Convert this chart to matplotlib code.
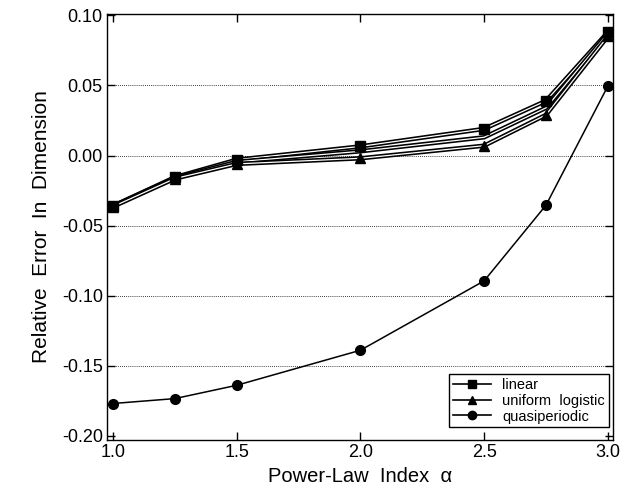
import matplotlib
matplotlib.use('Agg')
from matplotlib import pyplot as plt
import matplotlib.patheffects as pe
from matplotlib.lines import Line2D

alpha = [1.0, 1.25, 1.5, 2.0, 2.5, 2.75, 3.0]
linear = [-0.036, -0.0155, -0.003, 0.0065, 0.019, 0.039, 0.088]
uniform = [-0.036, -0.016, -0.0045, 0.003, 0.013, 0.034, 0.087]
logistic = [-0.0365, -0.0165, -0.006, -0.002, 0.007, 0.029, 0.085]
quasi = [-0.177, -0.1735, -0.164, -0.139, -0.0895, -0.0355, 0.0495]

plt.rcParams['font.family'] = ['Liberation Sans', 'DejaVu Sans']

fig = plt.figure(figsize=(6.24, 4.91), dpi=100)
ax = fig.add_axes([0.1715, 0.104, 0.8105, 0.8675])

hollow = [pe.Stroke(linewidth=3.2, foreground='black'), pe.Normal()]
for ys in (linear, uniform, logistic):
    ax.plot(alpha, ys, color='white', lw=0.9, path_effects=hollow, zorder=2)
ax.plot(alpha, linear, ls='none', marker='s', ms=7, color='black', zorder=3)
ax.plot(alpha, logistic, ls='none', marker='^', ms=7, color='black', zorder=3)
ax.plot(alpha, quasi, color='black', lw=1.1, marker='o', ms=7, zorder=3)

ax.set_xlim(0.976, 3.02)
ax.set_ylim(-0.203, 0.101)
ax.set_xticks([1.0, 1.5, 2.0, 2.5, 3.0])
ax.set_yticks([-0.20, -0.15, -0.10, -0.05, 0.00, 0.05, 0.10])
ax.set_xticklabels(['1.0', '1.5', '2.0', '2.5', '3.0'])
ax.set_yticklabels(['-0.20', '-0.15', '-0.10', '-0.05', '0.00', '0.05', '0.10'])
ax.tick_params(direction='in', length=6, width=1, top=True, right=True, labelsize=13, pad=3)
for y in (-0.15, -0.10, -0.05, 0.00, 0.05):
    ax.axhline(y, color='black', lw=0.6, ls=(0, (1, 1.5)), zorder=1)
for s in ax.spines.values():
    s.set_linewidth(1.0)

ax.set_xlabel('Power-Law  Index  α', fontsize=14.5, labelpad=4)
ax.set_ylabel('Relative  Error  In  Dimension', fontsize=15, labelpad=8)

handles = [Line2D([], [], color='black', marker='s', ms=6, lw=1.2),
           Line2D([], [], color='black', marker='^', ms=6, lw=1.2),
           Line2D([], [], color='black', marker='o', ms=6, lw=1.2)]
leg = ax.legend(handles, ['linear', 'uniform  logistic', 'quasiperiodic'], loc='lower right',
                bbox_to_anchor=(0.992, 0.03), borderaxespad=0,
                fontsize=10.5, fancybox=False, edgecolor='black', framealpha=1,
                handlelength=2.6, labelspacing=0.12, borderpad=0.25)
leg.get_frame().set_linewidth(1.0)

fig.savefig('out.png', dpi=100)
